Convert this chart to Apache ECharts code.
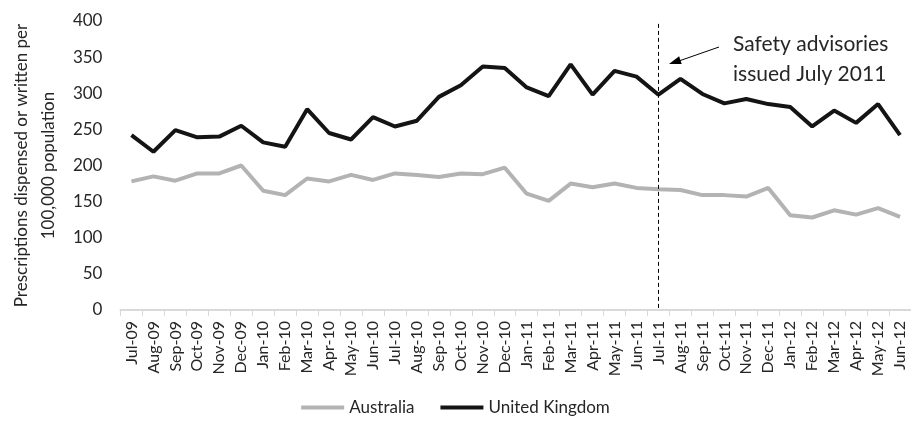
<!DOCTYPE html>
<html>
<head>
<meta charset="utf-8">
<script src="https://cdn.jsdelivr.net/npm/echarts@6/dist/echarts.min.js"></script>
<style>
  html, body { margin: 0; padding: 0; background: #fff; }
  #chart { width: 911px; height: 422px; }
</style>
</head>
<body>
<div id="chart"></div>
<script>
const months = [
  'Jul-09', 'Aug-09', 'Sep-09', 'Oct-09', 'Nov-09', 'Dec-09', 'Jan-10', 'Feb-10', 'Mar-10',
  'Apr-10', 'May-10', 'Jun-10', 'Jul-10', 'Aug-10', 'Sep-10', 'Oct-10', 'Nov-10', 'Dec-10',
  'Jan-11', 'Feb-11', 'Mar-11', 'Apr-11', 'May-11', 'Jun-11', 'Jul-11', 'Aug-11', 'Sep-11',
  'Oct-11', 'Nov-11', 'Dec-11', 'Jan-12', 'Feb-12', 'Mar-12', 'Apr-12', 'May-12', 'Jun-12'
]
const australia = [
  178, 185, 179, 189, 189, 200, 165, 159, 182, 178, 187, 180,
  189, 187, 184, 189, 188, 197, 161, 151, 175, 170, 175, 169,
  167, 166, 159, 159, 157, 169, 131, 128, 138, 132, 141, 129
]
const unitedKingdom = [
  242, 219, 249, 239, 240, 255, 232, 226, 278, 245, 236, 267,
  254, 262, 295, 311, 337, 335, 308, 296, 340, 298, 331, 323,
  298, 320, 299, 286, 292, 285, 281, 254, 276, 259, 285, 242
]
const yTicks = { min: 0, max: 400, step: 50 }
const advisoryMonth = 'Jul-11'

const font = 'Lato, sans-serif'
const textColor = '#262626'

let myChart = echarts.init(document.getElementById('chart'))
let option = {
  animation: false,
  textStyle: { fontFamily: font },
  grid: {
    left: 111,
    top: 21,
    width: 804,
    height: 289,
    containLabel: false
  },
  legend: {
    bottom: 1,
    left: 'center',
    icon: 'rect',
    itemWidth: 43,
    itemHeight: 4,
    itemGap: 26,
    textStyle: { fontSize: 17, color: textColor, fontFamily: font },
    data: ['Australia', 'United Kingdom']
  },
  xAxis: {
    type: 'category',
    data: months,
    boundaryGap: true,
    axisLine: { lineStyle: { color: '#d9d9d9', width: 2 } },
    axisTick: { show: true, interval: 0, length: 6, lineStyle: { color: '#d9d9d9' } },
    axisLabel: {
      interval: 0,
      rotate: 90,
      margin: 11,
      fontSize: 16,
      color: textColor,
      fontFamily: font
    },
    splitLine: { show: false }
  },
  yAxis: {
    type: 'value',
    min: yTicks.min,
    max: yTicks.max,
    interval: yTicks.step,
    name: 'Prescriptions dispensed or written per\n100,000 population',
    nameLocation: 'middle',
    nameRotate: 90,
    nameGap: 58,
    nameTextStyle: { fontSize: 17, color: textColor, lineHeight: 27, fontFamily: font },
    axisLine: { show: false },
    axisTick: { show: false },
    axisLabel: { fontSize: 17, color: textColor, margin: 18, fontFamily: font },
    splitLine: { show: false }
  },
  series: [
    {
      name: 'Australia',
      type: 'line',
      data: australia,
      symbol: 'none',
      color: '#b3b3b3',
      lineStyle: { width: 4, color: '#b3b3b3' }
    },
    {
      name: 'United Kingdom',
      type: 'line',
      data: unitedKingdom,
      symbol: 'none',
      color: '#141414',
      lineStyle: { width: 4, color: '#141414' },
      markLine: {
        silent: true,
        symbol: 'none',
        label: { show: false },
        lineStyle: { type: [4, 3], width: 1, color: '#000' },
        data: [
          [
            { xAxis: advisoryMonth, yAxis: 396 },
            { xAxis: advisoryMonth, yAxis: 0 }
          ]
        ]
      }
    }
  ],
  graphic: [
    {
      type: 'line',
      shape: { x1: 719, y1: 47, x2: 676, y2: 62 },
      style: { stroke: '#000', lineWidth: 1 }
    },
    {
      type: 'polygon',
      shape: { points: [[669, 64], [681.7, 63.9], [679.1, 56.3]] },
      style: { fill: '#000' }
    },
    {
      type: 'text',
      left: 733,
      top: 29,
      style: {
        text: 'Safety advisories\nissued July 2011',
        font: '21px Lato, sans-serif',
        lineHeight: 30,
        fill: textColor
      }
    }
  ]
}
myChart.setOption(option)
</script>
</body>
</html>
